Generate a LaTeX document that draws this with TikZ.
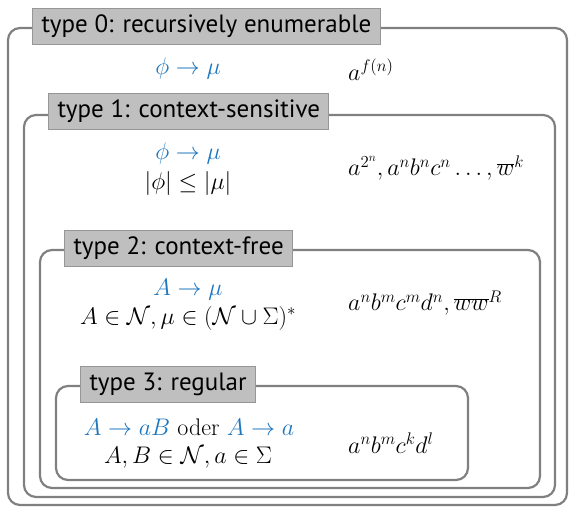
\RequirePackage{fix-cm}
\documentclass[tikz,border=0pt]{standalone}
\usepackage{fontspec}
\newfontfamily\labelfont{PT Sans}
\definecolor{myblue}{RGB}{30,118,190}
\definecolor{boxgray}{RGB}{128,128,128}
\definecolor{labfill}{RGB}{191,191,191}
\definecolor{labdraw}{RGB}{150,150,150}
\begin{document}
\begin{tikzpicture}[x=1pt,y=-1pt,
  box/.style={draw=boxgray, line width=2.2pt, rounded corners=12pt, inner sep=0pt},
  lab/.style={fill=labfill, draw=labdraw, line width=1pt, anchor=west, inner xsep=9pt, inner ysep=0pt, minimum height=36pt, font=\labelfont\fontsize{25}{28}\selectfont},
  m/.style={font=\fontsize{24}{29}\selectfont, inner sep=0pt},
  mr/.style={m, anchor=west},
  blue/.style={text=myblue}
  ]
\useasboundingbox (0,0) rectangle (569,509);
% boxes
\node[box, minimum width=559pt, minimum height=477pt] (b0) at (287.5,266.5) {};
\node[box, minimum width=531pt, minimum height=382pt] (b1) at (289.5,306) {};
\node[box, minimum width=500pt, minimum height=238pt] (b2) at (290,369) {};
\node[box, minimum width=412pt, minimum height=94pt] (b3) at (262,433) {};
% labels
\node[lab] (l0) at (32,26) {type 0: recursively enumerable};
\node[lab] (l1) at (48,111) {type 1: context-sensitive};
\node[lab] (l2) at (64,248.5) {type 2: context-free};
\node[lab] (l3) at (80,384) {type 3: regular};
% type 0
\node[m, blue] (t0a) at (188,68) {$\phi\to\mu$};
\node[mr] (t0r) at (348,70) {$a^{f(n)}$};
% type 1
\node[m, blue] (t1a) at (188,153) {$\phi\to\mu$};
\node[m] (t1b) at (188,183) {$|\phi|\leq|\mu|$};
\node[mr] (t1r) at (348,168) {$a^{2^n}, a^n b^n c^n\ldots, \overline{w}^k$};
% type 2
\node[m, blue] (t2a) at (188,290) {$A\to\mu$};
\node[m] (t2b) at (188,318) {$A\in\mathcal{N}, \mu\in(\mathcal{N}\cup\Sigma)^*$};
\node[mr] (t2r) at (348,303) {$a^n b^m c^m d^n, \overline{w w}^R$};
% type 3
\node[m] (t3a) at (189,427) {\textcolor{myblue}{$A\to aB$} oder \textcolor{myblue}{$A\to a$}};
\node[m] (t3b) at (188,458) {$A, B\in\mathcal{N}, a\in\Sigma$};
\node[mr] (t3r) at (348,443) {$a^n b^m c^k d^l$};
\end{tikzpicture}
\end{document}
